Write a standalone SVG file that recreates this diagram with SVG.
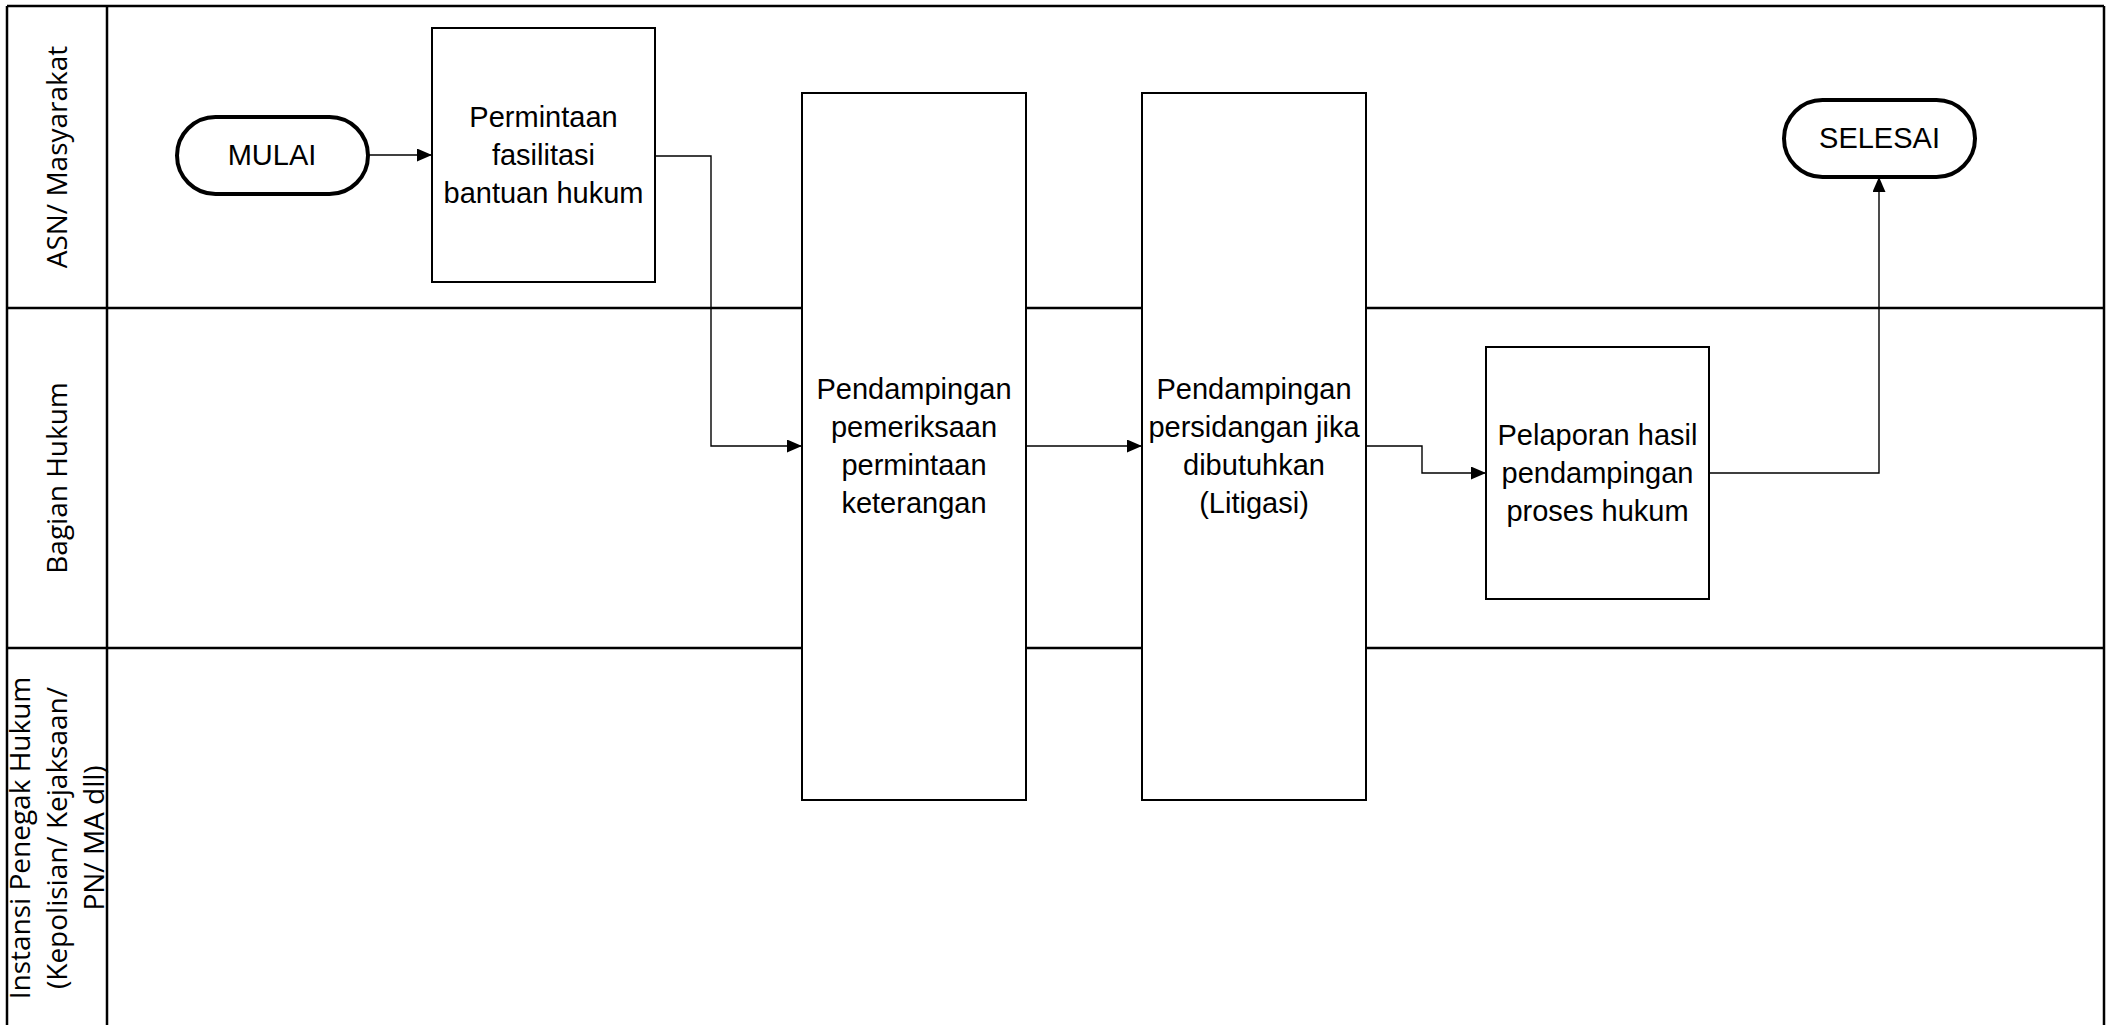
<svg xmlns="http://www.w3.org/2000/svg" width="2109" height="1025" viewBox="0 0 2109 1025">
  <style>
    .lane { stroke: #000; stroke-width: 2.5; fill: none; }
    .box { fill: #fff; stroke: #000; stroke-width: 2; }
    .term { fill: #fff; stroke: #000; stroke-width: 4; }
    .conn { fill: none; stroke: #000; stroke-width: 1.4; }
    .t { font-family: "Liberation Sans", Arial, sans-serif; font-size: 29px; fill: #000; text-anchor: middle; }
    .lt { font-family: "Open Sans", "Noto Sans", sans-serif; font-size: 28px; fill: #000; text-anchor: middle; }
  </style>
  <defs>
    <marker id="arrow" markerUnits="userSpaceOnUse" markerWidth="15" markerHeight="13" refX="15" refY="6.5" orient="auto">
      <path d="M0,0 L15,6.5 L0,13 z" fill="#000"/>
    </marker>
  </defs>
  <rect x="0" y="0" width="2109" height="1025" fill="#fff"/>

  <g id="lanes">
    <line class="lane" x1="7" y1="6" x2="2104" y2="6"/>
    <line class="lane" x1="7" y1="6" x2="7" y2="1025"/>
    <line class="lane" x1="2104" y1="6" x2="2104" y2="1025"/>
    <line class="lane" x1="107" y1="6" x2="107" y2="1025"/>
    <line class="lane" x1="7" y1="308" x2="2104" y2="308"/>
    <line class="lane" x1="7" y1="648" x2="2104" y2="648"/>
  </g>

  <g id="lane-labels">
    <g id="lane-asn" transform="translate(67,157) rotate(-90)">
      <text class="lt" x="0" y="0">ASN/ Masyarakat</text>
    </g>
    <g id="lane-hukum" transform="translate(67,478) rotate(-90)">
      <text class="lt" x="0" y="0">Bagian Hukum</text>
    </g>
    <g id="lane-instansi" transform="translate(30,838) rotate(-90)">
      <text class="lt" x="0" y="0">Instansi Penegak Hukum</text>
      <text class="lt" x="0" y="37">(Kepolisian/ Kejaksaan/</text>
      <text class="lt" x="0" y="74">PN/ MA dll)</text>
    </g>
  </g>

  <g id="connectors">
    <polyline class="conn" points="368,155 432,155" marker-end="url(#arrow)"/>
    <polyline class="conn" points="655,156 711,156 711,446 802,446" marker-end="url(#arrow)"/>
    <polyline class="conn" points="1026,446 1142,446" marker-end="url(#arrow)"/>
    <polyline class="conn" points="1366,446 1422,446 1422,473 1486,473" marker-end="url(#arrow)"/>
    <polyline class="conn" points="1709,473 1879,473 1879,177" marker-end="url(#arrow)"/>
  </g>

  <g id="node-mulai">
    <rect class="term" x="177" y="117" width="191" height="77" rx="38.5" ry="38.5"/>
    <text class="t" x="272" y="165">MULAI</text>
  </g>

  <g id="node-permintaan">
    <rect class="box" x="432" y="28" width="223" height="254"/>
    <text class="t" x="543.5" y="127">Permintaan</text>
    <text class="t" x="543.5" y="165">fasilitasi</text>
    <text class="t" x="543.5" y="203">bantuan hukum</text>
  </g>

  <g id="node-pemeriksaan">
    <rect class="box" x="802" y="93" width="224" height="707"/>
    <text class="t" x="914" y="399">Pendampingan</text>
    <text class="t" x="914" y="437">pemeriksaan</text>
    <text class="t" x="914" y="475">permintaan</text>
    <text class="t" x="914" y="513">keterangan</text>
  </g>

  <g id="node-persidangan">
    <rect class="box" x="1142" y="93" width="224" height="707"/>
    <text class="t" x="1254" y="399">Pendampingan</text>
    <text class="t" x="1254" y="437">persidangan jika</text>
    <text class="t" x="1254" y="475">dibutuhkan</text>
    <text class="t" x="1254" y="513">(Litigasi)</text>
  </g>

  <g id="node-pelaporan">
    <rect class="box" x="1486" y="347" width="223" height="252"/>
    <text class="t" x="1597.5" y="445">Pelaporan hasil</text>
    <text class="t" x="1597.5" y="483">pendampingan</text>
    <text class="t" x="1597.5" y="521">proses hukum</text>
  </g>

  <g id="node-selesai">
    <rect class="term" x="1784" y="100" width="191" height="77" rx="38.5" ry="38.5"/>
    <text class="t" x="1879.5" y="148">SELESAI</text>
  </g>
</svg>
